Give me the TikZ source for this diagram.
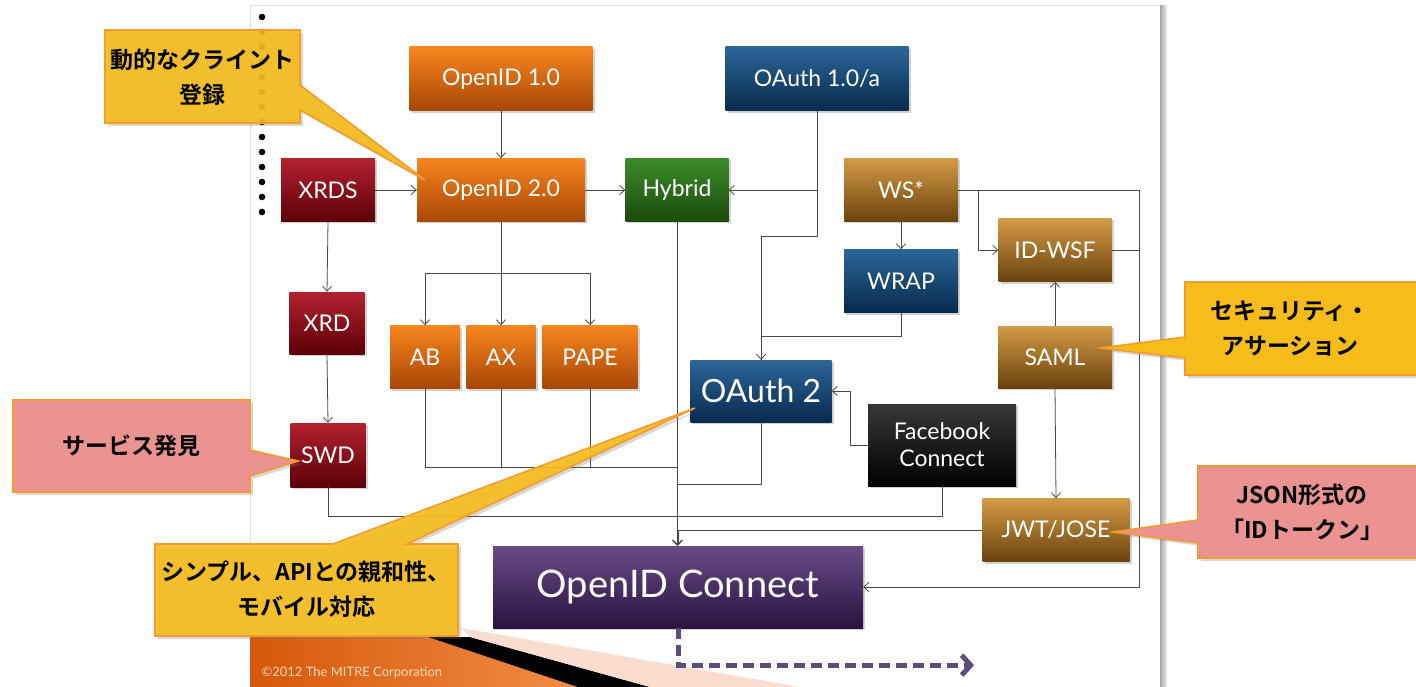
\documentclass[tikz,border=0pt]{standalone}
\usepackage{fontspec}
\setmainfont{Lato}
\newfontfamily\jp{Noto Sans CJK JP}[BoldFont={Noto Sans CJK JP Bold}]
\usetikzlibrary{shadows,arrows.meta,calc}
\definecolor{orT}{HTML}{F7861E}\definecolor{orB}{HTML}{A84606}
\definecolor{rdT}{HTML}{B3222F}\definecolor{rdB}{HTML}{5C0008}
\definecolor{grT}{HTML}{3C8C2C}\definecolor{grB}{HTML}{1B4A0C}
\definecolor{blT}{HTML}{2B6699}\definecolor{blB}{HTML}{082A4D}
\definecolor{brT}{HTML}{D49B45}\definecolor{brB}{HTML}{6B420E}
\definecolor{pkT}{HTML}{6A4B86}\definecolor{pkB}{HTML}{2A1240}
\definecolor{lineC}{HTML}{4A4A4A}
\definecolor{calY}{HTML}{F5BC1A}
\definecolor{calP}{HTML}{EB9392}
\definecolor{calO}{HTML}{F59A2E}
\definecolor{dashP}{HTML}{5F4A7C}
\definecolor{ftL}{HTML}{D6580A}
\definecolor{ftR}{HTML}{F28C46}
\definecolor{ftPink}{HTML}{FBDDD0}
\definecolor{ftTxt}{HTML}{FAD7BE}
\tikzset{
  bx/.style={inner sep=0pt, text=white, align=center, font=\fontsize{23}{26}\selectfont,
    drop shadow={opacity=0.35, shadow xshift=2pt, shadow yshift=-2pt}},
  orbox/.style={bx, top color=orT, bottom color=orB},
  rdbox/.style={bx, top color=rdT, bottom color=rdB},
  grbox/.style={bx, top color=grT, bottom color=grB},
  blbox/.style={bx, top color=blT, bottom color=blB},
  brbox/.style={bx, top color=brT, bottom color=brB},
  bkbox/.style={bx, top color=black!78, bottom color=black},
  pubox/.style={bx, top color=pkT, bottom color=pkB},
  ln/.style={draw=lineC, line width=0.8pt},
  conn/.style={ln, -{Straight Barb[length=5pt,width=9pt]}},
  callY/.style={fill=calY, draw=calO, line width=1.6pt, line join=miter,
    drop shadow={opacity=0.3, shadow xshift=3pt, shadow yshift=-3pt}},
  callP/.style={fill=calP, draw=calO, line width=1.6pt, line join=miter,
    drop shadow={opacity=0.3, shadow xshift=3pt, shadow yshift=-3pt}},
  jtxt/.style={font=\jp\bfseries\fontsize{23}{35}\selectfont, align=center, text=black, inner sep=0pt},
}
\begin{document}
\begin{tikzpicture}[x=1pt,y=-1pt]
\useasboundingbox (0,0) rectangle (1416,687);
\fill[white] (0,0) rectangle (1416,687);
% slide
\draw[black!12, line width=1pt] (250,6) rectangle (1160,700);
\shade[left color=black!35, right color=black!5] (1160,6) rectangle (1167,687);
% dots
\foreach \i in {0,...,13} \fill[black] (262,{17+15*\i}) circle (3.3);
% footer
\shade[left color=ftL, right color=ftR]
  (250,637) -- (428,637) -- (578,687) -- (250,687) -- cycle;
\fill[black] (428,637) -- (470,637) -- (650,687) -- (578,687) -- cycle;
\fill[ftPink] (461,628) -- (800,687) -- (650,687) -- (470,637) -- cycle;
\node[font=\fontsize{13}{15}\selectfont, text=ftTxt, anchor=west] (copy) at (258,673) {©2012 The MITRE Corporation};

% nodes
\node[orbox, minimum width=183pt, minimum height=64pt] (o1) at (501,79) {OpenID 1.0};
\node[blbox, minimum width=183pt, minimum height=64pt] (oa1) at (817,79) {OAuth 1.0/a};
\node[rdbox, minimum width=94pt, minimum height=63pt] (xrds) at (328,190) {XRDS};
\node[orbox, minimum width=168pt, minimum height=63pt] (o2) at (501,190) {OpenID 2.0};
\node[grbox, minimum width=103pt, minimum height=63pt] (hybrid) at (677,190) {Hybrid};
\node[brbox, minimum width=114pt, minimum height=63pt] (ws) at (901,190) {WS*};
\node[brbox, minimum width=113pt, minimum height=63pt] (idwsf) at (1055,250) {ID-WSF};
\node[blbox, minimum width=114pt, minimum height=63pt] (wrap) at (901,281) {WRAP};
\node[rdbox, minimum width=75pt, minimum height=62pt] (xrd) at (327,323) {XRD};
\node[orbox, minimum width=70pt, minimum height=63pt] (ab) at (425,357) {AB};
\node[orbox, minimum width=69pt, minimum height=63pt] (ax) at (501,357) {AX};
\node[orbox, minimum width=95pt, minimum height=63pt] (pape) at (590,357) {PAPE};
\node[brbox, minimum width=114pt, minimum height=62pt] (saml) at (1055,357) {SAML};
\node[blbox, minimum width=141pt, minimum height=62pt, font=\fontsize{32}{34}\selectfont] (oauth2) at (761,391) {OAuth 2};
\node[rdbox, minimum width=75pt, minimum height=64pt] (swd) at (328,455) {SWD};
\node[bkbox, minimum width=148pt, minimum height=82pt, font=\fontsize{23}{27}\selectfont] (fb) at (942,445) {Facebook\\Connect};
\node[brbox, minimum width=147pt, minimum height=63pt] (jwt) at (1056,530) {JWT/JOSE};
\node[pubox, minimum width=370pt, minimum height=82pt, font=\fontsize{38}{40}\selectfont] (oidc) at (678,587) {OpenID Connect};

% connectors
\draw[conn] (o1.south) -- (o2.north);
\draw[conn] (xrds.east) -- (o2.west);
\draw[conn] (o2.east) -- (hybrid.west);
\draw[conn] (oa1.south) |- (hybrid.east);
\draw[conn] (oa1.south) -- ++(0,125) -| (oauth2.north);
\draw[ln] (wrap.south) -- ++(0,24) -| (oauth2.north);
\draw[conn] (ws.south) -- (wrap.north);
\draw[conn] (ws.east) -- ++(20,0) |- (idwsf.west);
\draw[conn] (ws.east) -- ++(181,0) |- (oidc.east);
\draw[ln] (idwsf.east) -- ++(28,0);
\draw[conn] (saml.north) -- (idwsf.south);
\draw[conn] (saml.south) -- (jwt.north);
\draw[conn] (jwt.west) -| (oidc.north);
\draw[conn] (hybrid.south) -- (hybrid.south |- oidc.north);
\draw[ln] (oauth2.south) |- (hybrid.south |- 0,484);
\draw[conn] (o2.south) -- (ax.north);
\draw[conn] (o2.south) -- ++(0,52) -| (ab.north);
\draw[conn] (o2.south) -- ++(0,52) -| (pape.north);
\draw[ln] (ab.south) |- (hybrid.south |- 0,467);
\draw[ln] (ax.south) -- (ax.south |- 0,467);
\draw[ln] (pape.south) -- (pape.south |- 0,467);
\draw[conn] (fb.west) -- ++(-17,0) |- (oauth2.east);
\draw[ln] (swd.south) |- ($(fb.south)+(0,30)$) -- (fb.south);
\draw[conn] (xrds.south) -- (xrd.north);
\draw[conn] (xrd.south) -- (swd.north);
% dashed purple arrow
\draw[dashP, line width=5pt, dash pattern=on 11pt off 6pt, -{Straight Barb[length=9pt,width=20pt,line width=5pt]}]
  (oidc.south) -- ++(0,37) -- ++(296,0);

% callouts
\path[callY, fill opacity=0.9] (105,30) -- (300,30) -- (300,85) -- (425,180) -- (300,110) -- (300,123) -- (105,123) -- cycle;
\node[jtxt] (c1) at (202,77) {動的なクライント\\登録};
\path[callP] (13,400) -- (250,400) -- (250,450) -- (298,461) -- (250,476) -- (250,492) -- (13,492) -- cycle;
\node[jtxt] (c2) at (131,446) {サービス発見};
\path[callY] (1185,282) -- (1425,282) -- (1425,375) -- (1185,375) -- (1185,358) -- (1100,348) -- (1185,337) -- cycle;
\node[jtxt] (c3) at (1290,329) {セキュリティ・\\アサーション};
\path[callP] (1198,466) -- (1425,466) -- (1425,558) -- (1198,558) -- (1198,543) -- (1113,532) -- (1198,520) -- cycle;
\node[jtxt] (c4) at (1302,512) {JSON形式の\\「IDトークン」};
\path[callY, fill opacity=0.9] (155,544) -- (333,544) -- (695,408) -- (407,544) -- (458,544) -- (458,636) -- (155,636) -- cycle;
\node[jtxt] (c5) at (306,589) {シンプル、APIとの親和性、\\モバイル対応};
\end{tikzpicture}
\end{document}
